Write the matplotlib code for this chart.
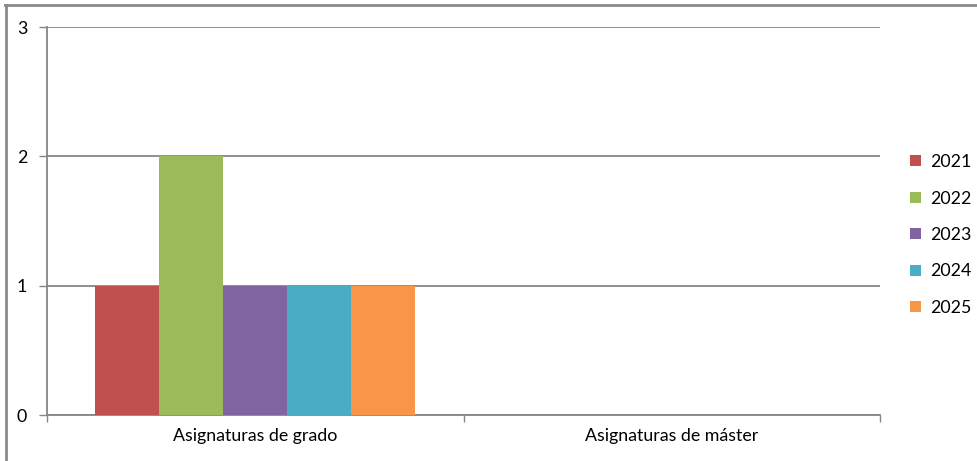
import numpy as np
import matplotlib.pyplot as plt
from matplotlib.lines import Line2D

categories = ["Asignaturas de grado", "Asignaturas de máster"]
years = ["2021", "2022", "2023", "2024", "2025"]
values = {
    "2021": [1, 0],
    "2022": [2, 0],
    "2023": [1, 0],
    "2024": [1, 0],
    "2025": [1, 0],
}
colors = ["#C0504D", "#9BBB59", "#8064A2", "#4BACC6", "#F79646"]

plt.rcParams["font.family"] = ["Lato", "DejaVu Sans"]
W, H = 977, 461
fs = 12.8
fig = plt.figure(figsize=(W / 100, H / 100), dpi=100)
ax = fig.add_axes([47 / W, 1 - 415 / H, (880 - 47) / W, (415 - 27) / H])

grey = "#868686"
x = np.arange(len(categories))
bw = 64 / 417
for i, (yr, c) in enumerate(zip(years, colors)):
    off = (i - (len(years) - 1) / 2) * bw
    ax.bar(x + off, values[yr], width=bw, color=c, label=yr, zorder=3)

ax.set_xlim(-0.5, len(categories) - 0.5)
ax.set_ylim(0, 3)
ax.set_yticks([0, 1, 2, 3])
ax.yaxis.grid(True, color=grey, linewidth=1.3, zorder=0)
ax.tick_params(axis="y", length=6, color=grey, width=1, labelsize=fs, pad=12)
ax.set_xticks(x)
ax.set_xticklabels(categories, fontsize=fs)
ax.set_xticks(np.arange(-0.5, len(categories)), minor=True)
ax.tick_params(axis="x", which="major", length=0, pad=9)
ax.tick_params(axis="x", which="minor", length=5, color=grey, width=1)
for s in ["top", "right"]:
    ax.spines[s].set_visible(False)
for s in ["left", "bottom"]:
    ax.spines[s].set_color(grey)
    ax.spines[s].set_linewidth(1.3)
for lbl in ax.get_yticklabels():
    lbl.set_horizontalalignment("center")

# outer chart frame (top and left edges only visible)
fig.add_artist(Line2D([5 / W, 1], [1 - 5 / H, 1 - 5 / H], color="#8a8a8a", lw=2))
fig.add_artist(Line2D([6 / W, 6 / W], [0, 1 - 5 / H], color="#8a8a8a", lw=2))

fig.legend(loc="center left", bbox_to_anchor=(903 / W, 1 - 235 / H), frameon=False,
           fontsize=fs, handlelength=0.6, handleheight=0.6, handletextpad=0.5,
           labelspacing=1.15, borderaxespad=0)

fig.savefig("out.png", dpi=100)
